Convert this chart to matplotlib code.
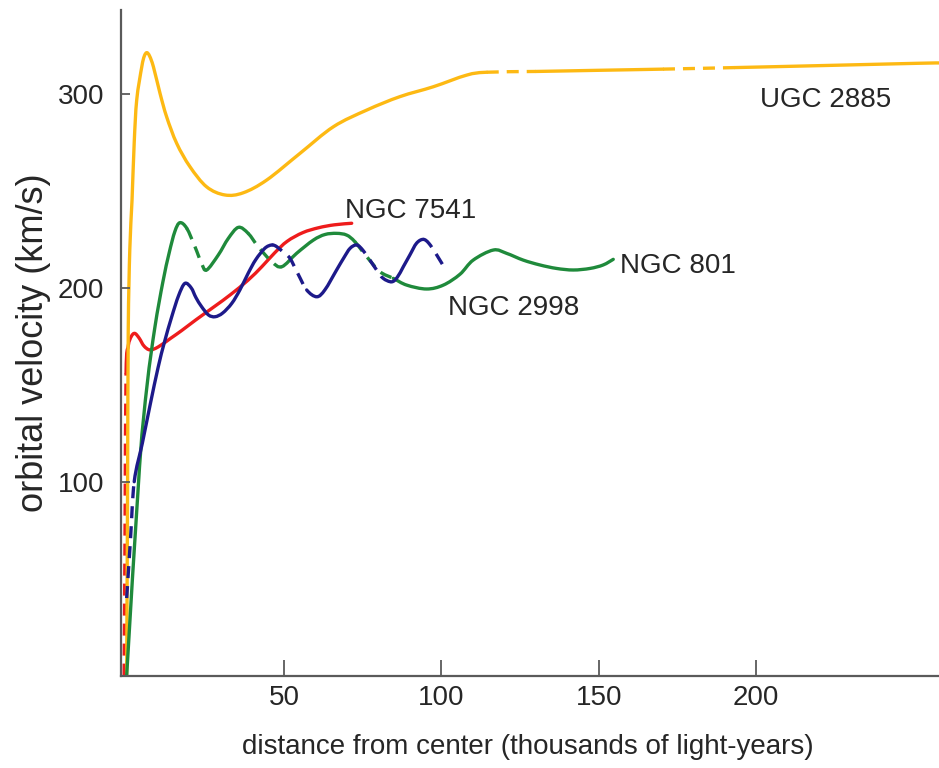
import matplotlib
matplotlib.use("Agg")
import matplotlib.pyplot as plt
from matplotlib.path import Path
from matplotlib.patches import PathPatch

# ---------------- data ----------------
ugc_x = [0, 0.3, 0.5, 1.0, 1.7, 2.4, 3.2, 4.8, 5.6, 6.4, 7.3, 8.5, 10.6, 12.7, 15.9, 20.1,
         25.4, 31.2, 37, 44.5, 55.1, 65.7, 76.3, 86.8, 97.4, 108, 114.4, 130, 150, 170.4,
         193.3, 220, 251, 258]
ugc_y = [0, 100, 178, 220, 245, 275, 297, 314, 319.5, 321.3, 319.5, 314, 300.3, 288.2, 274.5,
         262.5, 252.1, 247.9, 249, 255.6, 269.4, 283.1, 291.7, 298.6, 303.7, 309.7, 311.2,
         311.6, 312.2, 312.8, 313.6, 314.6, 315.8, 316]
ugc_dashed = [(114.4, 130), (170.4, 193.3)]

n7541_x = [-0.8, -0.5, -0.2, 0.5, 1.5, 2.6, 4, 5.5, 7.4, 10, 14, 17.5, 22, 28, 33, 38.6, 43,
           47, 51, 56, 61, 66, 71.5]
n7541_y = [0, 80, 156, 170, 175, 176.5, 174, 170, 168, 169.5, 174, 178, 183.5, 190.5, 196.5,
           204, 211, 218, 224, 228.5, 231, 232.5, 233.3]
n7541_dashed = [(-0.8, -0.2)]

n801_x = [0, 4.1, 6.5, 9, 11.5, 13.5, 15.3, 16.9, 19.1, 21.7, 23.8, 25.4, 29.1, 32.3, 35.5,
          38.6, 41.8, 46.1, 49.3, 54, 59.3, 63, 66.7, 69.9, 72.5, 76.3, 80.5, 84.7, 89, 95.3,
          100.6, 105.9, 110.1, 116.5, 120.7, 126, 131.3, 136.6, 141.9, 147.2, 151.4, 154.6]
n801_y = [0, 108, 150, 180, 203, 218, 229, 233.6, 230.7, 221.2, 212.6, 209.2, 216.9, 225.5,
          231.2, 228.1, 221.2, 213.5, 210.9, 217.8, 224.6, 227.5, 228.1, 227.2, 223.8, 216,
          208.3, 204.9, 201.4, 199.4, 201.4, 207, 214.3, 219.5, 217.8, 214.3, 211.8, 210,
          209.2, 210, 211.8, 214.7]
n801_dashed = [(19.1, 25.4), (37.6, 49.3), (72.5, 84.7)]

n2998_x = [0, 1.2, 2.4, 5, 7.5, 10, 12, 14.3, 16.5, 18.5, 20.5, 22, 23.8, 26, 28.1, 30.5, 33.4,
           36, 38.6, 41, 43.9, 46.1, 47.7, 50, 51.9, 54.5, 57.2, 60.4, 63, 66.7, 69, 71, 73.1,
           75, 77.3, 79.5, 81.5, 84.2, 86, 87.9, 90, 92.1, 94.2, 96, 98.5, 101.1]
n2998_y = [40, 70, 100, 120, 140, 159, 172, 185, 196, 202.3, 200, 195, 190.3, 186, 185.1, 187,
           192, 199, 207.5, 214.5, 220.4, 222.1, 221.2, 218, 215.2, 207, 198.9, 195.4, 199,
           209.2, 215.5, 220.4, 222.1, 219.5, 214.3, 209, 204.9, 203.1, 205.5, 210.9, 217, 223,
           225, 223, 217, 210]
n2998_dashed = [(0, 2.4), (46.1, 57.2), (73.1, 84.2), (94.2, 101.1)]

labels = ["UGC 2885", "NGC 7541", "NGC 2998", "NGC 801"]
label_x = [201.2, 69.4, 102.2, 156.8]
label_y = [293.4, 235.8, 186.0, 207.8]

x_ticks = [50, 100, 150, 200]
y_ticks = [100, 200, 300]

# ---------------- styling ----------------
FONT = ["Liberation Sans", "DejaVu Sans"]
TXT = "#262626"
SPINE = "#5a5a5a"
FS = 20

fig = plt.figure(figsize=(9.39, 7.68), dpi=100)
ax = fig.add_axes([121 / 939, 92.4 / 768, 1 - 121 / 939, (675.6 - 10) / 768])
ax.set_xlim(-1.8, 258.1)
ax.set_ylim(0, 343.3)


def smooth_piece(xs, ys, i0, i1):
    """Cubic Bezier path (Catmull-Rom tangents) through points i0..i1."""
    n = len(xs)
    verts = [(xs[i0], ys[i0])]
    codes = [Path.MOVETO]
    for i in range(i0, i1):
        p0 = max(i - 1, 0)
        p3 = min(i + 2, n - 1)
        c1 = (xs[i] + (xs[i + 1] - xs[p0]) / 6.0, ys[i] + (ys[i + 1] - ys[p0]) / 6.0)
        c2 = (xs[i + 1] - (xs[p3] - xs[i]) / 6.0, ys[i + 1] - (ys[p3] - ys[i]) / 6.0)
        verts += [c1, c2, (xs[i + 1], ys[i + 1])]
        codes += [Path.CURVE4] * 3
    return Path(verts, codes)


def draw(xs, ys, dashed, color):
    def is_dashed(k):
        xm = (xs[k] + xs[k + 1]) / 2
        return any(a <= xm <= b for a, b in dashed)
    start = 0
    cur = is_dashed(0)
    for k in range(1, len(xs)):
        d = is_dashed(k) if k < len(xs) - 1 else None
        if d != cur:
            patch = PathPatch(smooth_piece(xs, ys, start, k), transform=ax.transData,
                              fill=False, edgecolor=color, lw=2.4,
                              ls=(0, (3.6, 2.4)) if cur else "-",
                              capstyle="butt" if cur else "round", joinstyle="round")
            ax.add_patch(patch)
            start = k
            cur = d


draw(n7541_x, n7541_y, n7541_dashed, "#ee1c1c")
draw(ugc_x, ugc_y, ugc_dashed, "#fdb913")
draw(n801_x, n801_y, n801_dashed, "#1f8a3b")
draw(n2998_x, n2998_y, n2998_dashed, "#1d1a8a")

for t, x, y in zip(labels, label_x, label_y):
    ax.text(x, y, t, family=FONT, fontsize=FS, color=TXT, va="baseline", ha="left")

for s in ["top", "right"]:
    ax.spines[s].set_visible(False)
for s in ["left", "bottom"]:
    ax.spines[s].set_color(SPINE)
    ax.spines[s].set_linewidth(1.6)

ax.set_xticks(x_ticks)
ax.set_yticks(y_ticks)
ax.tick_params(axis="x", direction="in", length=11.5, width=1.3, color=SPINE,
               labelsize=FS, labelcolor=TXT, pad=7)
ax.tick_params(axis="y", direction="in", length=6.5, width=1.3, color=SPINE,
               labelsize=FS, labelcolor=TXT, pad=12)
for lab in ax.get_xticklabels() + ax.get_yticklabels():
    lab.set_family(FONT)

ax.set_xlabel("distance from center (thousands of light-years)", family=FONT,
              fontsize=FS, color=TXT)
ax.xaxis.set_label_coords(0.4976, -0.088)
ax.set_ylabel("orbital velocity (km/s)", family=FONT, fontsize=26, color=TXT)
ax.yaxis.set_label_coords(-0.085, 0.5)

fig.savefig("out.png", dpi=100)
